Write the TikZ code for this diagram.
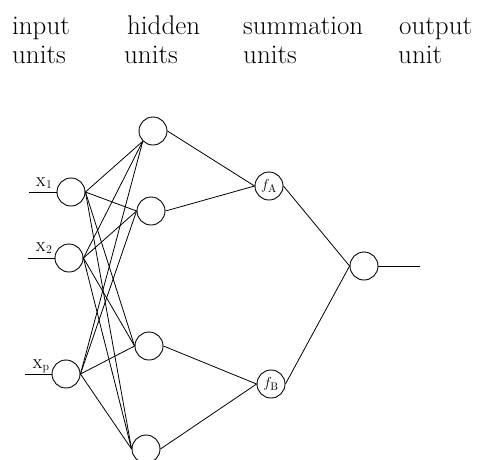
\documentclass[tikz,border=0pt]{standalone}
\usetikzlibrary{positioning}
\newcommand\headsize{\fontsize{27}{29}\selectfont}
\newcommand\labsize{\fontsize{17}{17}\selectfont}
\begin{document}
\begin{tikzpicture}[x=1pt,y=-1pt,
    unit/.style={draw,circle,minimum size=28pt,inner sep=0pt,line width=0.9pt},
    sumunit/.style={unit,font=\fontsize{15}{15}\selectfont},
    link/.style={line width=0.8pt},
    head/.style={anchor=base west,inner sep=0pt,font=\headsize},
    inlabel/.style={anchor=base,inner sep=0pt,font=\labsize}
  ]
  \useasboundingbox (0,0) rectangle (481,459);

  % column headings
  \node[head] (hin) at (12,34) {input};
  \node[head] (hinb) at (12,63) {units};
  \node[head] (hhid) at (127,34) {hidden};
  \node[head] (hhidb) at (124,63) {units};
  \node[head] (hsum) at (243,34) {summation};
  \node[head] (hsumb) at (243,63) {units};
  \node[head] (hout) at (399,34) {output};
  \node[head] (houtb) at (398,63) {unit};

  % units
  \node[unit] (x1) at (71,192) {};
  \node[unit] (x2) at (69,258) {};
  \node[unit] (xp) at (66,374) {};

  \node[unit] (h1) at (153,131) {};
  \node[unit] (h2) at (151,211) {};
  \node[unit] (h3) at (149,346) {};
  \node[unit] (h4) at (146,449) {};

  \node[sumunit] (fA) at (269,186) {$f_{\mathrm{A}}$};
  \node[sumunit] (fB) at (271,384) {$f_{\mathrm{B}}$};

  \node[unit] (out) at (364,266) {};

  % inputs and output
  \coordinate (in1) at (29,192);
  \coordinate (in2) at (28,258);
  \coordinate (inp) at (25,374);
  \coordinate (res) at (420,266);

  \draw[link] (in1) -- (x1.west);
  \draw[link] (in2) -- (x2.west);
  \draw[link] (inp) -- (xp.west);
  \draw[link] (out.east) -- (res);

  \node[inlabel] (lx1) at (44,186) {\textsc{x}\textsubscript{1}};
  \node[inlabel] (lx2) at (44,251) {\textsc{x}\textsubscript{2}};
  \node[inlabel] (lxp) at (41,368) {\textsc{x}\textsubscript{p}};

  % input to hidden
  \draw[link] (x1.east) -- (h1.south west);
  \draw[link] (x1.east) -- (h2.west);
  \draw[link] (x1.east) -- (h3.west);
  \draw[link] (x1.east) -- (h4.west);
  \draw[link] (x2.east) -- (h1.south west);
  \draw[link] (x2.east) -- (h2.west);
  \draw[link] (x2.east) -- (h3.west);
  \draw[link] (x2.east) -- (h4.west);
  \draw[link] (xp.east) -- (h1.south west);
  \draw[link] (xp.east) -- (h2.west);
  \draw[link] (xp.east) -- (h3.west);
  \draw[link] (xp.east) -- (h4.west);

  % hidden to summation
  \draw[link] (h1.east) -- (fA.west);
  \draw[link] (h2.east) -- (fA.west);
  \draw[link] (h3.east) -- (fB.west);
  \draw[link] (h4.east) -- (fB.west);

  % summation to output
  \draw[link] (fA.east) -- (out.west);
  \draw[link] (fB.east) -- (out.west);
\end{tikzpicture}
\end{document}
